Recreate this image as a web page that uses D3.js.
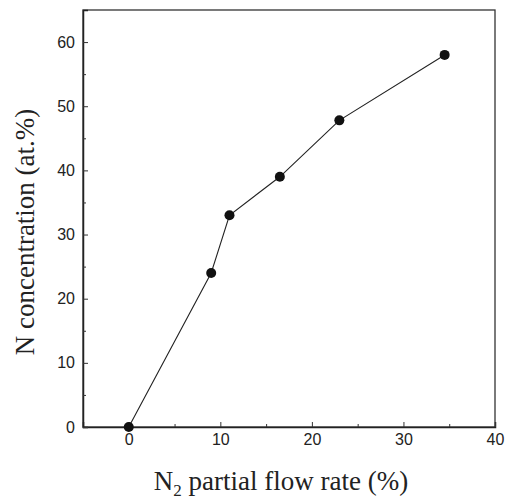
<!DOCTYPE html>
<html>
<head>
<meta charset="utf-8">
<script src="https://cdn.jsdelivr.net/npm/d3@7"></script>
<style>
  body { margin: 0; background: #fff; }
  .tick text { font-family: "Liberation Sans", Arial, sans-serif; font-size: 16px; fill: #222; }
  .title { font-family: "Liberation Serif", "Times New Roman", serif; font-size: 27px; fill: #222; }
</style>
</head>
<body>
<script>
// N2 partial flow rate (%) vs N concentration (at.%)
var flowRate = [0, 9, 11, 16.5, 23, 34.5];
var nConc = [0, 24, 33, 39, 47.8, 58];
var xTicks = [0, 10, 20, 30, 40];
var yTicks = [0, 10, 20, 30, 40, 50, 60];

var width = 512, height = 502;
var margin = {left: 83, right: 17, top: 10, bottom: 75};

var svg = d3.select("body").append("svg")
  .attr("width", width)
  .attr("height", height);

var x = d3.scaleLinear().domain([-5, 40]).range([margin.left, width - margin.right]);
var y = d3.scaleLinear().domain([0, 65]).range([height - margin.bottom, margin.top]);

// frame
svg.append("rect")
  .attr("x", x(-5)).attr("y", y(65))
  .attr("width", x(40) - x(-5)).attr("height", y(0) - y(65))
  .attr("fill", "none").attr("stroke", "#333").attr("stroke-width", 1.3);

// x axis (ticks pointing inward)
var xAxis = svg.append("g")
  .attr("transform", "translate(0," + y(0) + ")")
  .call(d3.axisBottom(x).tickValues(xTicks).tickSize(-5).tickPadding(7).tickFormat(d3.format("d")));
xAxis.select(".domain").attr("stroke", "#222").attr("stroke-width", 1.5);
svg.append("g")
  .attr("transform", "translate(0," + y(0) + ")")
  .call(d3.axisBottom(x).tickValues([5, 15, 25, 35]).tickSize(-3).tickFormat(""))
  .select(".domain").remove();

// y axis
var yAxis = svg.append("g")
  .attr("transform", "translate(" + x(-5) + ",0)")
  .call(d3.axisLeft(y).tickValues(yTicks).tickSize(-5).tickPadding(8).tickFormat(d3.format("d")));
yAxis.select(".domain").attr("stroke", "#222").attr("stroke-width", 1.5);
svg.append("g")
  .attr("transform", "translate(" + x(-5) + ",0)")
  .call(d3.axisLeft(y).tickValues([5, 15, 25, 35, 45, 55]).tickSize(-3).tickFormat(""))
  .select(".domain").remove();

svg.selectAll(".tick line").attr("stroke", "#333");

// data line
var data = flowRate.map(function(d, i) { return {x: d, y: nConc[i]}; });
svg.append("path")
  .datum(data)
  .attr("fill", "none")
  .attr("stroke", "#222")
  .attr("stroke-width", 1.1)
  .attr("d", d3.line().x(function(d) { return x(d.x); }).y(function(d) { return y(d.y); }));

svg.selectAll("circle.pt")
  .data(data)
  .enter()
  .append("circle")
  .attr("class", "pt")
  .attr("cx", function(d) { return x(d.x); })
  .attr("cy", function(d) { return y(d.y); })
  .attr("r", 5)
  .attr("fill", "#111");

// axis titles
var xt = svg.append("text")
  .attr("class", "title")
  .attr("x", 281)
  .attr("y", 490)
  .attr("text-anchor", "middle");
xt.append("tspan").text("N");
xt.append("tspan").attr("dy", 6).attr("font-size", 17).text("2");
xt.append("tspan").attr("dy", -6).text(" partial flow rate (%)");

svg.append("text")
  .attr("class", "title")
  .attr("font-size", 28)
  .attr("transform", "translate(34,232) rotate(-90)")
  .attr("text-anchor", "middle")
  .text("N concentration (at.%)");
</script>
</body>
</html>
